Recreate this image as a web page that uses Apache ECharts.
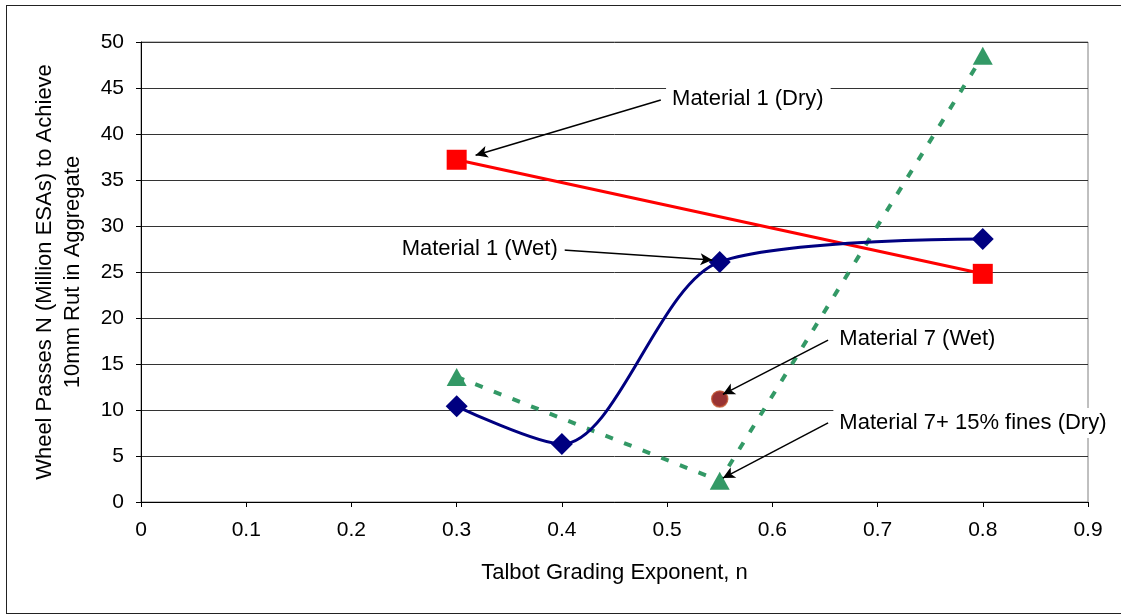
<!DOCTYPE html>
<html>
<head>
<meta charset="utf-8">
<script src="https://cdn.jsdelivr.net/npm/echarts@6/dist/echarts.min.js"></script>
<style>
  html, body { margin: 0; padding: 0; background: #fff; overflow: hidden; }
  #frame { position: absolute; left: 6px; top: 5px; width: 1130px; height: 609px; border: 1px solid #222; box-sizing: border-box; }
  #chart { position: absolute; left: 0; top: 0; width: 1121px; height: 615px; }
</style>
</head>
<body>
<div id="frame"></div>
<div id="chart"></div>
<script>
// Talbot grading exponent vs. wheel passes to reach a 10mm rut
const xTicks = [0, 0.1, 0.2, 0.3, 0.4, 0.5, 0.6, 0.7, 0.8, 0.9];
const yTicks = [0, 5, 10, 15, 20, 25, 30, 35, 40, 45, 50];

const mat1Dry = [[0.3, 37.2], [0.8, 24.8]];
const mat1Wet = [[0.3, 10.4], [0.4, 6.3], [0.55, 26.1], [0.8, 28.6]];
const mat7Wet = [[0.55, 11.2]];
const mat7Fines = [[0.3, 13.6], [0.55, 2.3], [0.8, 48.5]];

// Callouts: label text, label anchor, arrow tail and arrow head (all in data coords)
const callouts = [
  { text: 'Material 1 (Dry)',            at: [0.499, 43.8], from: [0.494, 43.7], to: [0.318, 37.7] },
  { text: 'Material 1 (Wet)',            at: [0.242, 27.5], from: [0.401, 27.4], to: [0.543, 26.3] },
  { text: 'Material 7 (Wet)',            at: [0.658, 17.7], from: [0.653, 17.6], to: [0.553, 11.7] },
  { text: 'Material 7+ 15% fines (Dry)', at: [0.658, 8.6],  from: [0.653, 8.6],  to: [0.553, 2.6] }
];

const FONT = '"Liberation Sans", Arial, sans-serif';
const chart = echarts.init(document.getElementById('chart'));

chart.setOption({
  animation: false,
  backgroundColor: 'transparent',
  grid: { left: 141, right: 33, top: 42, bottom: 113, show: true, borderColor: '#808080', borderWidth: 1 },
  xAxis: {
    type: 'value', min: xTicks[0], max: xTicks[xTicks.length - 1], interval: 0.1,
    name: 'Talbot Grading Exponent, n', nameLocation: 'middle', nameGap: 60,
    nameTextStyle: { fontFamily: FONT, fontSize: 22, color: '#000' },
    axisLine: { lineStyle: { color: '#000', width: 1 } },
    axisTick: { show: true, length: 5, lineStyle: { color: '#000' } },
    axisLabel: { fontFamily: FONT, fontSize: 21, color: '#000', margin: 18,
      formatter: v => String(Math.round(v * 10) / 10) },
    splitLine: { show: false }
  },
  yAxis: {
    type: 'value', min: yTicks[0], max: yTicks[yTicks.length - 1], interval: 5,
    name: 'Wheel Passes N (Million ESAs) to Achieve\n10mm Rut in Aggregate',
    nameLocation: 'middle', nameGap: 54, nameRotate: 90,
    nameTextStyle: { fontFamily: FONT, fontSize: 22, color: '#000', lineHeight: 28 },
    axisLine: { show: true, lineStyle: { color: '#000', width: 1 } },
    axisTick: { show: true, length: 5, lineStyle: { color: '#000' } },
    axisLabel: { fontFamily: FONT, fontSize: 21, color: '#000', margin: 17 },
    splitLine: { show: true, lineStyle: { color: '#333', width: 1 } }
  },
  series: [
    {
      name: 'Material 1 (Dry)', type: 'line', data: mat1Dry,
      symbol: 'rect', symbolSize: 20,
      lineStyle: { color: '#ff0000', width: 3 },
      itemStyle: { color: '#ff0000' }, z: 3
    },
    {
      name: 'Material 1 (Wet)', type: 'line', data: mat1Wet, smooth: 0.3,
      symbol: 'diamond', symbolSize: 22,
      lineStyle: { color: '#000080', width: 3 },
      itemStyle: { color: '#000080' }, z: 4
    },
    {
      name: 'Material 7 (Wet)', type: 'scatter', data: mat7Wet,
      symbol: 'circle', symbolSize: 16,
      itemStyle: { color: '#800000', borderColor: '#c0502a', borderWidth: 1.5 }, z: 4
    },
    {
      name: 'Material 7+ 15% fines (Dry)', type: 'line', data: mat7Fines,
      symbol: 'triangle', symbolSize: [20, 18],
      lineStyle: { color: '#339966', width: 4, type: [8, 12] },
      itemStyle: { color: '#339966' }, z: 3
    },
    {
      name: 'callouts', type: 'scatter', data: [], silent: true, z: 6,
      markLine: {
        silent: true, animation: false,
        symbol: ['none', 'arrow'], symbolSize: [9, 12],
        lineStyle: { color: '#000', width: 1.5, type: 'solid' },
        label: { show: false },
        data: callouts.map(c => [{ coord: c.from }, { coord: c.to }])
      }
    }
  ]
});

// Callout labels, placed through the chart's own coordinate system
const graphics = callouts.map(c => {
  const p = chart.convertToPixel({ gridIndex: 0 }, c.at);
  return {
    type: 'text', x: p[0], y: p[1], z: 10,
    style: {
      text: c.text, font: '22px ' + FONT, fill: '#000',
      align: 'left', verticalAlign: 'middle',
      backgroundColor: '#fff', padding: [4, 7, 4, 6]
    }
  };
});
chart.setOption({ graphic: graphics });
</script>
</body>
</html>
